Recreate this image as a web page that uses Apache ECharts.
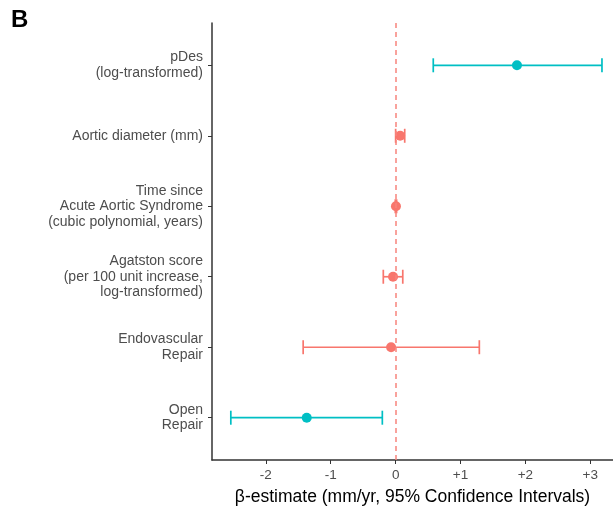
<!DOCTYPE html>
<html>
<head>
<meta charset="utf-8">
<script src="https://cdn.jsdelivr.net/npm/echarts@6/dist/echarts.min.js"></script>
<style>
  html, body { margin: 0; padding: 0; background: #fff; }
  #chart { width: 613px; height: 506px; }
</style>
</head>
<body>
<div id="chart"></div>
<script>
// Predictors, top to bottom
const predictors = [
  'pDes\n(log-transformed)',
  'Aortic diameter (mm)',
  'Time since\nAcute Aortic Syndrome\n(cubic polynomial, years)',
  'Agatston score\n(per 100 unit increase,\nlog-transformed)',
  'Endovascular\nRepair',
  'Open\nRepair'
];
// Beta estimates and 95% confidence limits (mm/yr)
const estimate = [1.87, 0.07, 0.005, -0.04, -0.07, -1.37];
const lowerCI  = [0.58, 0.00, -0.005, -0.19, -1.425, -2.54];
const upperCI  = [3.18, 0.14, 0.015, 0.11, 1.29, -0.205];
// Whether the interval excludes zero (significant)
const significant = [true, false, false, false, false, true];
const xTicks = [-2, -1, 0, 1, 2, 3];

const TEAL = '#00BFC4';
const RED = '#F8766D';

const rows = predictors.map((p, i) => ({
  pos: i + 1,
  est: estimate[i],
  lo: lowerCI[i],
  hi: upperCI[i],
  color: significant[i] ? TEAL : RED
}));

const chart = echarts.init(document.getElementById('chart'));

chart.setOption({
  animation: false,
  backgroundColor: '#fff',
  textStyle: { fontFamily: 'Liberation Sans, Arial, sans-serif' },
  graphic: [{
    type: 'text', left: 11, top: 8,
    style: { text: 'B', fontSize: 24, fontWeight: 'bold', fill: '#000',
             fontFamily: 'Liberation Sans, Arial, sans-serif' }
  }],
  grid: { left: 212, right: 0, top: 23, bottom: 46, containLabel: false, outerBoundsMode: 'none' },
  xAxis: {
    type: 'value', min: -2.83, max: 3.35,
    name: 'β-estimate (mm/yr, 95% Confidence Intervals)',
    nameLocation: 'middle', nameGap: 28,
    nameTextStyle: { fontSize: 17.5, color: '#000' },
    splitLine: { show: false },
    axisLine: { show: true, onZero: false, lineStyle: { color: '#333', width: 1.5 } },
    axisTick: { show: true, length: 4, lineStyle: { color: '#333' }, customValues: xTicks },
    axisLabel: {
      color: '#4d4d4d', fontSize: 13.5, margin: 8, customValues: xTicks,
      formatter: v => (v > 0 ? '+' + v : String(v))
    }
  },
  yAxis: {
    type: 'value', min: 0.4, max: 6.6, inverse: true,
    splitLine: { show: false },
    axisLine: { show: true, onZero: false, lineStyle: { color: '#333', width: 1.5 } },
    axisTick: { show: true, length: 4, lineStyle: { color: '#333' }, customValues: [1, 2, 3, 4, 5, 6] },
    axisLabel: {
      color: '#4d4d4d', fontSize: 14, lineHeight: 15.5, align: 'right', margin: 9,
      customValues: [1, 2, 3, 4, 5, 6],
      formatter: v => predictors[Math.round(v) - 1] || ''
    }
  },
  series: [
    {
      // zero reference line
      type: 'line', data: [], silent: true,
      markLine: {
        silent: true, symbol: 'none', label: { show: false },
        lineStyle: { color: '#F8847C', type: [5, 4], width: 1.5, opacity: 1 },
        data: [{ xAxis: 0 }]
      }
    },
    {
      // confidence interval bars with end caps
      type: 'custom',
      data: rows.map(r => [r.lo, r.hi, r.pos]),
      renderItem: (params, api) => {
        const lo = api.coord([api.value(0), api.value(2)]);
        const hi = api.coord([api.value(1), api.value(2)]);
        const color = rows[params.dataIndex].color;
        const cap = 7;
        const style = { stroke: color, lineWidth: 1.7 };
        return {
          type: 'group',
          children: [
            { type: 'line', shape: { x1: lo[0], y1: lo[1], x2: hi[0], y2: hi[1] }, style },
            { type: 'line', shape: { x1: lo[0], y1: lo[1] - cap, x2: lo[0], y2: lo[1] + cap }, style },
            { type: 'line', shape: { x1: hi[0], y1: hi[1] - cap, x2: hi[0], y2: hi[1] + cap }, style }
          ]
        };
      },
      z: 3
    },
    {
      // point estimates
      type: 'scatter',
      symbol: 'circle', symbolSize: 10,
      itemStyle: { opacity: 1 },
      data: rows.map(r => ({ value: [r.est, r.pos], itemStyle: { color: r.color, opacity: 1 } })),
      z: 4
    }
  ]
});
</script>
</body>
</html>
